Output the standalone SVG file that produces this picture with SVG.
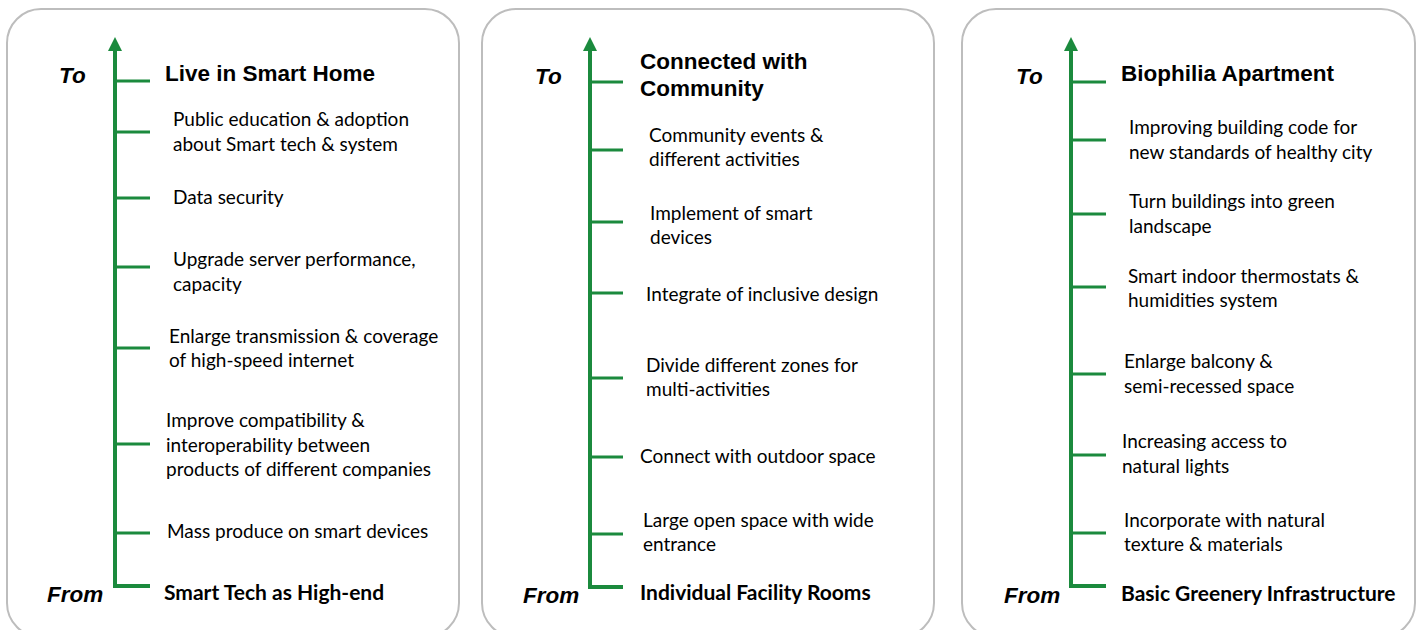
<svg xmlns="http://www.w3.org/2000/svg" width="1422" height="630" viewBox="0 0 1422 630">
<style>
.panel{fill:#ffffff;stroke:#bdbdbd;stroke-width:2}
.axis{fill:none;stroke:#1b8a3d;stroke-width:4}
.tick{stroke:#1b8a3d;stroke-width:3}
.head{fill:#1b8a3d}
.ft{font-family:"Liberation Sans",Arial,sans-serif;font-weight:bold;font-style:italic;font-size:22.5px;fill:#000}
.h{font-family:"Liberation Sans",Arial,sans-serif;font-weight:bold;font-size:22.5px;fill:#000}
.t{font-family:Lato,"Open Sans",sans-serif;font-size:19px;fill:#000}
.b{font-family:Lato,"Open Sans",sans-serif;font-weight:bold;font-size:21px;fill:#000}
</style>
<rect width="1422" height="630" fill="#ffffff"/>
<g id="panel1">
<rect class="panel" x="7" y="9" width="452" height="628" rx="34"/>
<text class="ft" x="59" y="83">To</text>
<text class="ft" x="47" y="602">From</text>
<text class="h" x="165" y="81">Live in Smart Home</text>
<text class="t" x="173" y="126">Public education &amp; adoption</text>
<text class="t" x="173" y="151">about Smart tech &amp; system</text>
<text class="t" x="173" y="204">Data security</text>
<text class="t" x="173" y="266">Upgrade server performance,</text>
<text class="t" x="173" y="291">capacity</text>
<text class="t" x="169" y="343">Enlarge transmission &amp; coverage</text>
<text class="t" x="169" y="367">of high-speed internet</text>
<text class="t" x="166" y="427">Improve compatibility &amp;</text>
<text class="t" x="166" y="452">interoperability between</text>
<text class="t" x="166" y="476">products of different companies</text>
<text class="t" x="167" y="538">Mass produce on smart devices</text>
<text class="b" x="164" y="600">Smart Tech as High-end</text>
</g>
<g id="panel2">
<rect class="panel" x="482" y="9" width="452" height="628" rx="34"/>
<text class="ft" x="535" y="84">To</text>
<text class="ft" x="523" y="603">From</text>
<text class="h" x="640" y="69">Connected with</text>
<text class="h" x="640" y="96">Community</text>
<text class="t" x="649" y="142">Community events &amp;</text>
<text class="t" x="649" y="166">different activities</text>
<text class="t" x="650" y="220">Implement of smart</text>
<text class="t" x="650" y="244">devices</text>
<text class="t" x="646" y="301">Integrate of inclusive design</text>
<text class="t" x="646" y="372">Divide different zones for</text>
<text class="t" x="646" y="396">multi-activities</text>
<text class="t" x="640" y="463">Connect with outdoor space</text>
<text class="t" x="643" y="527">Large open space with wide</text>
<text class="t" x="643" y="551">entrance</text>
<text class="b" x="640" y="600">Individual Facility Rooms</text>
</g>
<g id="panel3">
<rect class="panel" x="962" y="9" width="453" height="628" rx="34"/>
<text class="ft" x="1016" y="84">To</text>
<text class="ft" x="1004" y="603">From</text>
<text class="h" x="1121" y="81">Biophilia Apartment</text>
<text class="t" x="1129" y="134">Improving building code for</text>
<text class="t" x="1129" y="159">new standards of healthy city</text>
<text class="t" x="1129" y="208">Turn buildings into green</text>
<text class="t" x="1129" y="233">landscape</text>
<text class="t" x="1128" y="283">Smart indoor thermostats &amp;</text>
<text class="t" x="1128" y="307">humidities system</text>
<text class="t" x="1124" y="368">Enlarge balcony &amp;</text>
<text class="t" x="1124" y="393">semi-recessed space</text>
<text class="t" x="1122" y="448">Increasing access to</text>
<text class="t" x="1122" y="473">natural lights</text>
<text class="t" x="1124" y="527">Incorporate with natural</text>
<text class="t" x="1124" y="551">texture &amp; materials</text>
<text class="b" x="1121" y="601">Basic Greenery Infrastructure</text>
</g>
<g id="connectors">
<path class="axis" d="M115 50 V586 H150"/>
<polygon class="head" points="115,37 108,51 122,51"/>
<line class="tick" x1="115" y1="81" x2="150" y2="81"/>
<line class="tick" x1="115" y1="132" x2="150" y2="132"/>
<line class="tick" x1="115" y1="198" x2="150" y2="198"/>
<line class="tick" x1="115" y1="267" x2="150" y2="267"/>
<line class="tick" x1="115" y1="348" x2="150" y2="348"/>
<line class="tick" x1="115" y1="444" x2="150" y2="444"/>
<line class="tick" x1="115" y1="533" x2="150" y2="533"/>
<path class="axis" d="M590 50 V587 H623"/>
<polygon class="head" points="590,37 583,51 597,51"/>
<line class="tick" x1="590" y1="82" x2="623" y2="82"/>
<line class="tick" x1="590" y1="150" x2="623" y2="150"/>
<line class="tick" x1="590" y1="222" x2="623" y2="222"/>
<line class="tick" x1="590" y1="293" x2="623" y2="293"/>
<line class="tick" x1="590" y1="378" x2="623" y2="378"/>
<line class="tick" x1="590" y1="457" x2="623" y2="457"/>
<line class="tick" x1="590" y1="534" x2="623" y2="534"/>
<path class="axis" d="M1071 50 V586 H1106"/>
<polygon class="head" points="1071,37 1064,51 1078,51"/>
<line class="tick" x1="1071" y1="82" x2="1106" y2="82"/>
<line class="tick" x1="1071" y1="140" x2="1106" y2="140"/>
<line class="tick" x1="1071" y1="214" x2="1106" y2="214"/>
<line class="tick" x1="1071" y1="287" x2="1106" y2="287"/>
<line class="tick" x1="1071" y1="374" x2="1106" y2="374"/>
<line class="tick" x1="1071" y1="455" x2="1106" y2="455"/>
<line class="tick" x1="1071" y1="533" x2="1106" y2="533"/>
</g>
</svg>
